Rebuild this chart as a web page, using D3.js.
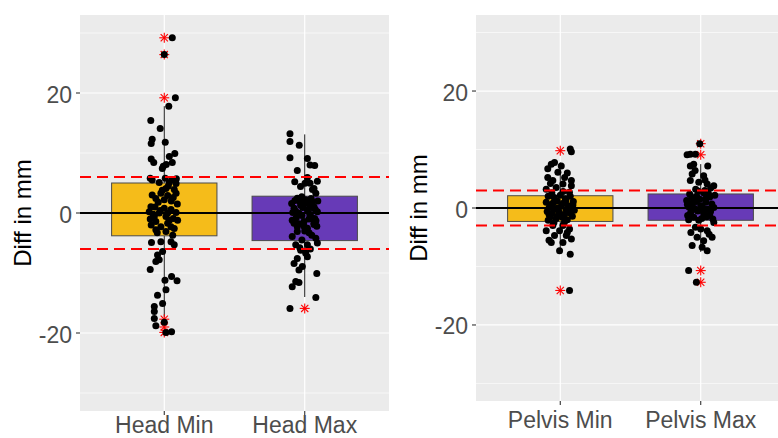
<!DOCTYPE html>
<html>
<head>
<meta charset="utf-8">
<script src="https://cdn.jsdelivr.net/npm/d3@7"></script>
<style>
  html, body { margin: 0; padding: 0; background: #fff; }
  svg { display: block; }
  text { font-family: "Liberation Sans", Arial, sans-serif; }
</style>
</head>
<body>
<svg id="chart" width="778" height="438"></svg>
<script>
// ---------------- DATA ----------------
const leftCategories = ["Head Min", "Head Max"];
const rightCategories = ["Pelvis Min", "Pelvis Max"];
const yTicksMajor = [-20, 0, 20];
const yTicksMinor = [-30, -10, 10, 30];
const yTickLabels = ["-20", "0", "20"];
const yTitle = "Diff in mm";

const leftLimit = 6;    // red dashed lines at ±6
const rightLimit = 3;   // red dashed lines at ±3

// box statistics: [lowerWhisker, q1, q3, upperWhisker]
const headMinBox = [-17.3, -3.8, 5.0, 17.8];
const headMaxBox = [-14.0, -4.6, 2.8, 13.1];
const pelvisMinBox = [-7.3, -2.3, 2.1, 7.8];
const pelvisMaxBox = [-7.5, -2.1, 2.4, 7.5];

// outliers (red asterisks)
const headMinOutliers = [29.2, 26.4, 19.2, -17.7, -19.0, -19.9];
const headMaxOutliers = [-15.9];
const pelvisMinOutliers = [9.8, -14.1];
const pelvisMaxOutliers = [11.0, 9.1, -10.7, -12.7];

// jittered points: [jitter (category units), value]
const headMinPoints = [
  [0.057,29.2],[0,26.4],[0.079,19.2],[0.032,17.8],[-0.096,15.4],[-0.029,14.1],[-0.086,12.3],[-0.093,11.6],
  [0.007,11.8],[0.075,9.9],[0.036,9.4],[-0.093,9.0],[-0.075,8.4],[0.057,8.4],[0.014,8.1],[-0.014,7.4],[-0.007,7.8],
  [-0.1,5.8],[-0.086,5.5],[0.007,5.8],[0.057,5.6],[0.086,5.7],
  [-0.036,5.1],[0.036,5.1],[0.084,4.9],[0.012,4.1],[0.071,3.9],[-0.024,3.3],[0.084,3.3],[0.024,2.9],[-0.06,2.4],
  [-0.095,1.05],[-0.066,1.0],[0,0.8],[0.048,0.6],[-0.107,0.2],[-0.036,0.0],[0.024,0.0],[0.084,0.1],[-0.071,-0.6],
  [0.012,-0.6],[0.095,-1.2],[-0.06,-1.4],[0.024,-1.7],[-0.024,-2.3],[0.048,-2.3],[-0.06,-2.8],[0.012,-3.1],[0.06,-3.7],
  [-0.043,1.8],[0.05,2.0],[-0.079,-0.2],[0.064,-0.9],[-0.014,3.8],[0.093,1.5],[-0.1,-1.0],[0.029,4.5],[-0.05,-3.3],
  [0,2.2],[0.071,-2.6],[-0.086,3.0],[0.036,-1.2],[-0.029,0.4],[0.064,2.6],[-0.093,-2.0],
  [-0.024,-4.8],[-0.091,-4.9],[0.048,-4.8],[0.071,-5.3],[-0.012,-6.4],[-0.048,-7.0],[-0.036,-7.8],[-0.06,-8.1],
  [-0.1,-9.4],[0.005,-11.2],[0.052,-10.6],[0.091,-11.3],[0.012,-12.8],[-0.048,-13.7],[-0.012,-15.1],[-0.071,-15.6],
  [-0.071,-16.4],[-0.071,-17.6],[-0.06,-18.8],[0,-18.2],[0.012,-19.9],[0.052,-19.8]
];
const headMaxPoints = [
  [-0.105,13.2],[-0.105,11.9],[-0.039,11.3],[-0.105,9.2],[0.019,9.1],[0.038,8.0],[0.071,7.9],[-0.053,7.1],
  [0.019,5.9],[-0.071,5.2],[0.002,4.95],[0.09,5.3],[0.038,4.95],[0.066,4.1],[0.079,3.3],[-0.03,4.4],[0.055,3.9],
  [-0.053,2.45],[0.007,2.2],[0.054,1.9],[-0.029,1.3],[0.066,1.05],[-0.076,0.8],[0.019,0.5],[0.09,0.2],
  [-0.041,-0.05],[0.043,-0.6],[-0.089,-1.2],[-0.005,-1.4],[0.066,-1.7],[-0.053,-2.3],[0.019,-2.55],
  [-0.021,2.7],[0.093,2.0],[-0.093,1.6],[0.036,-0.2],[-0.014,0.9],[0.071,-0.9],[-0.064,0.3],[0.029,1.5],
  [-0.043,-1.8],[0.086,-2.2],[-0.07,2.1],[0.01,1.7],[0.05,0.9],[-0.02,-0.4],[0.08,-1.3],[-0.06,-0.8],
  [0.03,-1.0],[-0.085,0.1],[0.0,-3.0],[0.045,2.4],[-0.035,1.9],[0.075,0.6],
  [-0.076,-1.7],[-0.005,-2.2],[0.066,-1.9],[-0.053,-3.1],[0.031,-3.3],[-0.089,-3.9],[0.079,-4.2],
  [-0.064,-5.3],[0.019,-5.3],[0.09,-5.0],[-0.029,-6.2],[0.007,-6.7],[-0.053,-7.6],[0.019,-7.3],
  [-0.02,-4.5],[0.05,-3.7],[-0.035,-5.8],[0.04,-6.0],
  [-0.076,-8.4],[-0.017,-8.9],[-0.041,-9.5],[0.086,-10.1],[-0.064,-11.4],[-0.041,-11.6],[-0.089,-12.3],
  [0.079,-14.1],[-0.105,-15.9]
];
const pelvisMinPoints = [
  [0.071,10.1],[0.079,9.6],[-0.064,7.5],[-0.041,7.8],[0.007,7.2],[-0.089,6.7],[-0.017,6.1],[-0.089,5.2],
  [0.031,5.2],[-0.053,4.7],[0.079,4.7],[0.019,4.1],[0.079,3.8],[-0.029,3.5],[-0.1,3.2],[0.05,6.0],[-0.07,4.2],
  [-0.086,2.0],[-0.043,1.8],[0,2.2],[0.036,1.6],[0.071,2.0],[-0.1,1.0],[-0.064,0.6],[-0.021,1.2],[0.021,0.8],
  [0.057,0.4],[0.093,1.1],[-0.079,0.1],[-0.036,-0.2],[0.007,0.3],[0.043,-0.3],[0.079,-0.1],[-0.093,-0.6],
  [-0.057,-0.9],[-0.007,-0.7],[0.029,-1.1],[0.064,-0.8],[0.1,-0.4],[-0.071,-1.5],[-0.029,-1.8],[0.014,-1.6],
  [0.05,-2.0],[0.086,-1.4],[-0.05,0.9],[-0.014,-1.3],[-0.086,-2.1],[-0.06,2.6],[0.02,2.8],[0.065,2.7],
  [-0.02,0.0],[0.04,1.3],[-0.08,-1.1],[0.09,0.5],[-0.045,-2.5],[0.03,-2.4],
  [-0.053,-3.0],[0.019,-3.0],[-0.1,-3.9],[-0.005,-3.9],[0.066,-3.6],[-0.041,-4.7],[0.043,-4.7],
  [-0.064,-5.9],[0.019,-5.9],[0.079,-5.3],[-0.005,-7.3],[0.071,-7.9],[-0.08,-5.5],[0.05,-4.2],[0.066,-14.1]
];
const pelvisMaxPoints = [
  [-0.007,11.0],[-0.097,9.1],[-0.074,9.2],[-0.038,9.2],[-0.05,7.5],[0.05,7.2],[-0.074,7.2],[-0.061,5.8],
  [0.021,5.5],[-0.074,4.7],[-0.014,4.4],[0.046,4.1],[0.093,3.8],[-0.04,6.4],[0.03,4.8],
  [-0.079,2.4],[-0.029,2.0],[0.021,2.6],[0.064,1.9],[0.1,2.2],[-0.1,1.3],[-0.057,0.9],[-0.007,1.5],
  [0.036,1.0],[0.079,0.7],[-0.086,0.2],[-0.043,-0.1],[0,0.4],[0.05,-0.2],[0.093,0.1],[-0.071,-0.7],
  [-0.021,-0.5],[0.021,-0.9],[0.064,-1.2],[-0.093,-1.3],[-0.05,-1.6],[0.007,-1.8],[0.043,-1.5],[0.086,-1.9],
  [-0.014,-2.1],[-0.064,1.8],[0.029,3.0],[-0.036,3.2],[0.071,3.4],[-0.086,-2.0],
  [-0.02,2.9],[0.055,2.5],[-0.095,0.6],[0.015,0.0],[0.07,-0.6],[-0.03,1.1],[0.035,1.6],[-0.06,-0.3],
  [0.093,-2.5],[-0.038,-3.3],[0.046,-3.9],[-0.026,-5.0],[0.081,-5.0],[0.021,-5.6],[-0.061,-6.4],
  [0.01,-6.7],[0.046,-7.3],[-0.07,-4.2],[0.0,-3.6],[0.06,-4.5],[-0.086,-10.7],[-0.031,-12.7]
];

const boxColors = ["#F5BC1A", "#673AB7"];

// ---------------- DRAW ----------------
const svg = d3.select("#chart");

function drawPanel(opts) {
  const { x0, x1, y0, y1, cats, boxes, outliers, points, limit, titleX } = opts;
  const x = d3.scaleLinear().domain([0.4, 2.6]).range([x0, x1]);
  const y = d3.scaleLinear().domain([-33, 33]).range([y1, y0]);

  const clipId = "clip" + Math.round(x0);
  svg.append("clipPath").attr("id", clipId)
    .append("rect").attr("x", x0).attr("y", y0).attr("width", x1 - x0).attr("height", y1 - y0);

  const g = svg.append("g");
  const p = g.append("g").attr("clip-path", `url(#${clipId})`);

  p.append("rect").attr("x", x0).attr("y", y0).attr("width", x1 - x0).attr("height", y1 - y0)
    .attr("fill", "#EBEBEB");

  // minor grid
  p.selectAll(".minor").data(yTicksMinor).join("line")
    .attr("x1", x0).attr("x2", x1).attr("y1", d => y(d)).attr("y2", d => y(d))
    .attr("stroke", "#fff").attr("stroke-width", 0.6);
  // major grid
  p.selectAll(".major").data(yTicksMajor).join("line")
    .attr("x1", x0).attr("x2", x1).attr("y1", d => y(d)).attr("y2", d => y(d))
    .attr("stroke", "#fff").attr("stroke-width", 1.2);
  p.selectAll(".vmajor").data(cats).join("line")
    .attr("x1", (d, i) => x(i + 1)).attr("x2", (d, i) => x(i + 1)).attr("y1", y0).attr("y2", y1)
    .attr("stroke", "#fff").attr("stroke-width", 1.2);

  // boxes
  boxes.forEach((b, i) => {
    const cx = x(i + 1);
    p.append("line").attr("x1", cx).attr("x2", cx).attr("y1", y(b[3])).attr("y2", y(b[2]))
      .attr("stroke", "#1a1a1a").attr("stroke-width", 1);
    p.append("line").attr("x1", cx).attr("x2", cx).attr("y1", y(b[1])).attr("y2", y(b[0]))
      .attr("stroke", "#1a1a1a").attr("stroke-width", 1);
    p.append("rect")
      .attr("x", x(i + 1 - 0.375)).attr("width", x(i + 1 + 0.375) - x(i + 1 - 0.375))
      .attr("y", y(b[2])).attr("height", y(b[1]) - y(b[2]))
      .attr("fill", boxColors[i]).attr("stroke", "#4a4a4a").attr("stroke-width", 1);
  });

  // outliers (asterisks)
  outliers.forEach((arr, i) => {
    const cx = x(i + 1);
    arr.forEach(v => {
      const cy = y(v), r = 5;
      const a = p.append("g").attr("stroke", "#FF0000").attr("stroke-width", 1.1);
      a.append("line").attr("x1", cx - r).attr("x2", cx + r).attr("y1", cy).attr("y2", cy);
      a.append("line").attr("x1", cx).attr("x2", cx).attr("y1", cy - r).attr("y2", cy + r);
      const d = r * 0.72;
      a.append("line").attr("x1", cx - d).attr("x2", cx + d).attr("y1", cy - d).attr("y2", cy + d);
      a.append("line").attr("x1", cx - d).attr("x2", cx + d).attr("y1", cy + d).attr("y2", cy - d);
    });
  });

  // zero line
  p.append("line").attr("x1", x0).attr("x2", x1).attr("y1", y(0)).attr("y2", y(0))
    .attr("stroke", "#000").attr("stroke-width", 2.2);

  // points
  points.forEach((arr, i) => {
    p.append("g").selectAll("circle").data(arr).join("circle")
      .attr("cx", d => x(i + 1 + d[0])).attr("cy", d => y(d[1])).attr("r", 3.5)
      .attr("fill", "#000");
  });

  // red dashed limits
  [limit, -limit].forEach(v => {
    p.append("line").attr("x1", x0).attr("x2", x1).attr("y1", y(v)).attr("y2", y(v))
      .attr("stroke", "#FF0000").attr("stroke-width", 2).attr("stroke-dasharray", "11,6");
  });

  // y axis ticks and labels
  yTicksMajor.forEach((t, k) => {
    g.append("line").attr("x1", x0 - 4).attr("x2", x0).attr("y1", y(t)).attr("y2", y(t))
      .attr("stroke", "#333").attr("stroke-width", 1.1);
    g.append("text").attr("x", x0 - 8).attr("y", y(t) + 9.5).attr("text-anchor", "end")
      .attr("font-size", 23).attr("fill", "#4D4D4D").text(yTickLabels[k]);
  });
  // x axis ticks and labels
  cats.forEach((c, i) => {
    g.append("line").attr("x1", x(i + 1)).attr("x2", x(i + 1)).attr("y1", y1).attr("y2", y1 + 4)
      .attr("stroke", "#333").attr("stroke-width", 1.1);
    g.append("text").attr("x", x(i + 1)).attr("y", Math.min(y1 + 27, 433)).attr("text-anchor", "middle")
      .attr("font-size", 23).attr("fill", "#4D4D4D").text(c);
  });
  // y title
  g.append("text").attr("transform", `translate(${titleX},${(y0 + y1) / 2}) rotate(-90)`)
    .attr("text-anchor", "middle").attr("dominant-baseline", "central")
    .attr("font-size", 24).attr("fill", "#000").text(yTitle);
}

drawPanel({
  x0: 80, x1: 389, y0: 15, y1: 411,
  cats: leftCategories,
  boxes: [headMinBox, headMaxBox],
  outliers: [headMinOutliers, headMaxOutliers],
  points: [headMinPoints, headMaxPoints],
  limit: leftLimit, titleX: 22
});
drawPanel({
  x0: 476, x1: 785, y0: 15, y1: 401,
  cats: rightCategories,
  boxes: [pelvisMinBox, pelvisMaxBox],
  outliers: [pelvisMinOutliers, pelvisMaxOutliers],
  points: [pelvisMinPoints, pelvisMaxPoints],
  limit: rightLimit, titleX: 418
});
</script>
</body>
</html>
